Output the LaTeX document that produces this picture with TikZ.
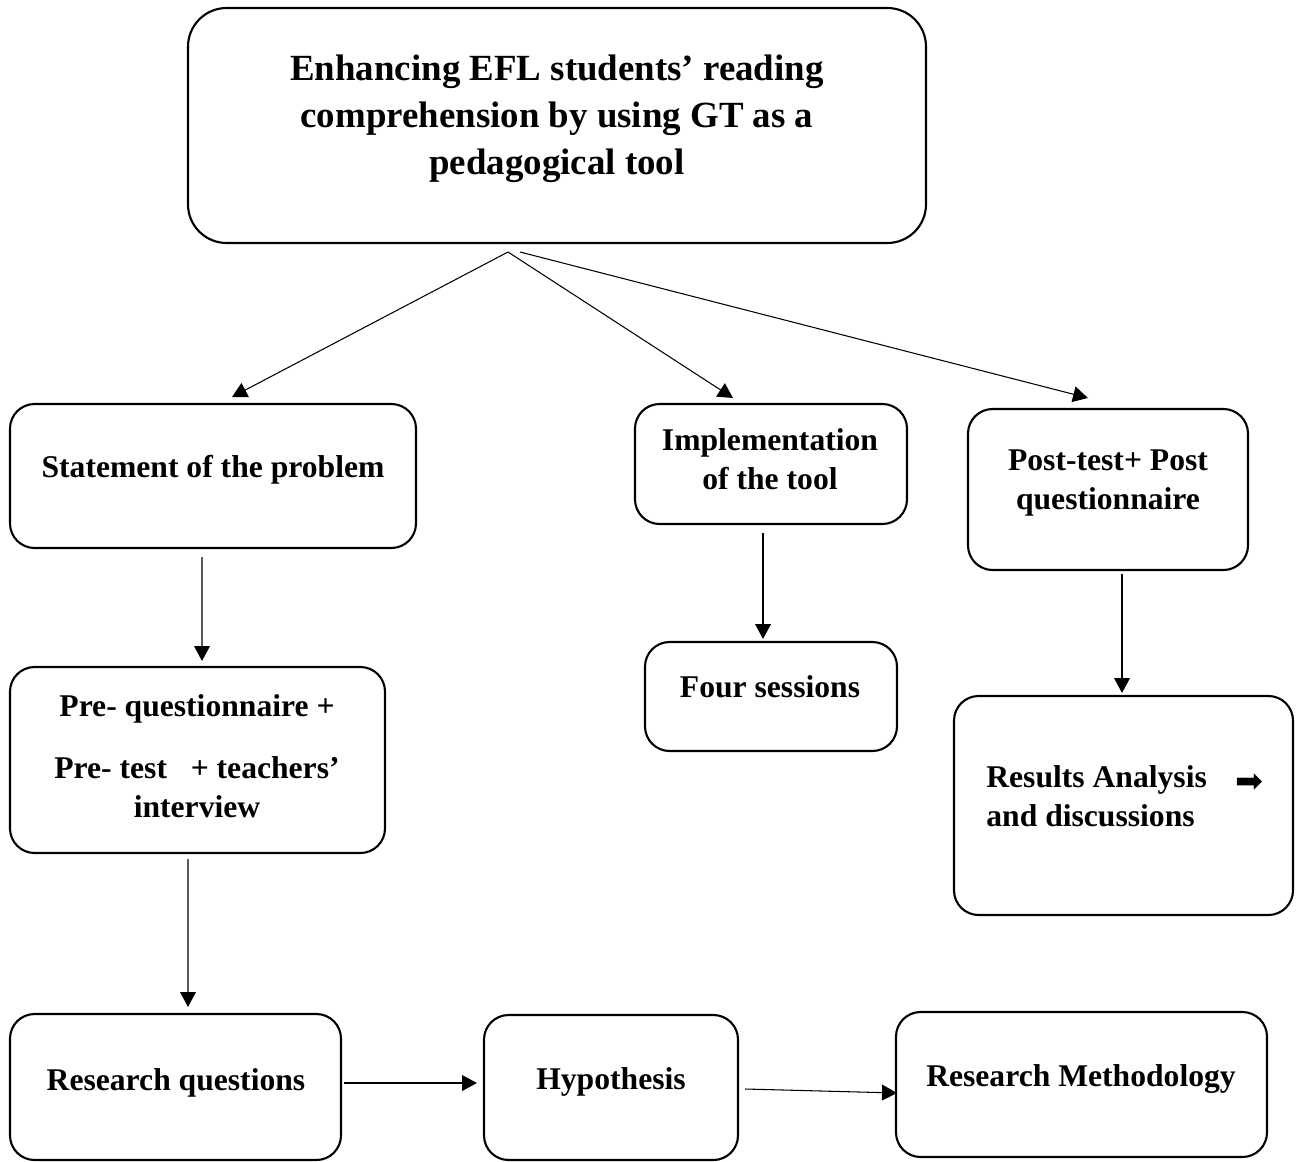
\documentclass[tikz,border=0pt]{standalone}
\usepackage{fontspec}
\setmainfont{Liberation Serif}
\newfontfamily\symfont{DejaVu Sans}
\usetikzlibrary{arrows.meta}
\begin{document}
\begin{tikzpicture}[x=0.02cm,y=-0.02cm,
  box/.style={draw, line width=1.2pt, rounded corners=14pt, inner sep=0pt},
  bigbox/.style={box, rounded corners=22pt},
  txt/.style={font=\fontsize{18}{22.5}\selectfont\bfseries, align=center, inner sep=0pt},
  arr/.style={line width=0.6pt, -{Triangle[length=8.5pt,width=9pt]}}]
\useasboundingbox (0,0) rectangle (1304,1162);
% boxes
\node[bigbox, minimum width=738*0.02cm, minimum height=235*0.02cm] (title) at (557,125.5) {};
\node[txt, font=\fontsize{21}{26.6}\selectfont\bfseries] (titletxt) at (557,119) {Enhancing EFL students’ reading\\comprehension by using GT as a\\pedagogical tool};
\node[box, minimum width=406*0.02cm, minimum height=144*0.02cm] (stmt) at (213,476) {};
\node[txt] (stmttxt) at (213,470) {Statement of the problem};
\node[box, minimum width=272*0.02cm, minimum height=120*0.02cm] (impl) at (771,464) {};
\node[txt] (impltxt) at (770,459) {Implementation\\of the tool};
\node[box, minimum width=280*0.02cm, minimum height=161*0.02cm] (post) at (1108,489.5) {};
\node[txt] (posttxt) at (1108,483) {Post-test+ Post\\questionnaire};
\node[box, minimum width=375*0.02cm, minimum height=186*0.02cm] (pre) at (197.5,760) {};
\node[txt] (pretxt1) at (197,709) {Pre- questionnaire +};
\node[txt] (pretxt2) at (197,787) {Pre- test \ \ + teachers’\\interview};
\node[box, minimum width=252*0.02cm, minimum height=109*0.02cm] (four) at (771,696.5) {};
\node[txt] (fourtxt) at (770,687) {Four sessions};
\node[box, minimum width=339*0.02cm, minimum height=219*0.02cm] (res) at (1123.5,805.5) {};
\node[txt, anchor=west, align=left] (restxt) at (986,796) {Results Analysis\\and discussions};
\node[inner sep=0pt, font=\symfont\fontsize{19}{19}\selectfont] (resarrow) at (1249,783) {➡};
\node[box, minimum width=331*0.02cm, minimum height=146*0.02cm] (rq) at (175.5,1087) {};
\node[txt] (rqtxt) at (176,1083) {Research questions};
\node[box, minimum width=254*0.02cm, minimum height=145*0.02cm] (hyp) at (611,1087.5) {};
\node[txt] (hyptxt) at (611,1082) {Hypothesis};
\node[box, minimum width=371*0.02cm, minimum height=145*0.02cm] (rm) at (1081.5,1084.5) {};
\node[txt] (rmtxt) at (1081,1079) {Research Methodology};
% connectors
\coordinate (split) at (508,252);
\coordinate (split2) at (520,252);
\draw[arr] (split) -- (232,397) coordinate (e1);
\draw[arr] (split) -- (733,398) coordinate (e2);
\draw[arr] (split2) -- (1088,398) coordinate (e3);
\draw[arr] ([xshift=-11*0.02cm, yshift=-8*0.02cm]stmt.south) -- ([xshift=4.5*0.02cm, yshift=5*0.02cm]pre.north);
\draw[arr] ([xshift=-9.5*0.02cm, yshift=-5*0.02cm]pre.south) -- ([xshift=12.5*0.02cm, yshift=6*0.02cm]rq.north);
\draw[arr] ([xshift=-8*0.02cm, yshift=-8*0.02cm]impl.south) -- ([xshift=-8*0.02cm, yshift=2*0.02cm]four.north);
\draw[arr] ([xshift=14*0.02cm, yshift=-3*0.02cm]post.south) -- ([xshift=-1.5*0.02cm, yshift=2*0.02cm]res.north);
\draw[arr] ([xshift=2*0.02cm, yshift=4*0.02cm]rq.east) -- ([xshift=-6*0.02cm, yshift=4.5*0.02cm]hyp.west);
\draw[arr] ([xshift=6*0.02cm, yshift=-1.5*0.02cm]hyp.east) -- ([xshift=2*0.02cm, yshift=-8.5*0.02cm]rm.west);
\end{tikzpicture}
\end{document}
